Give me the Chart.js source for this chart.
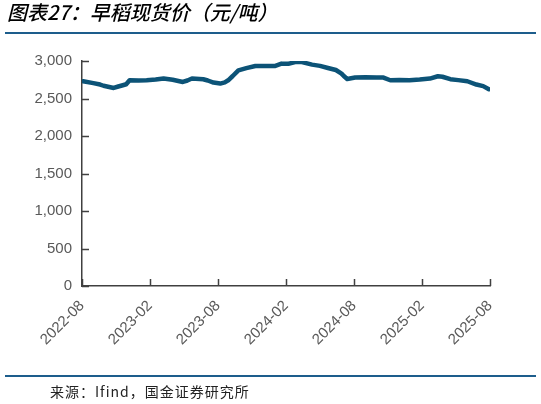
<!DOCTYPE html>
<html>
<head>
<meta charset="utf-8">
<script src="https://cdn.jsdelivr.net/npm/chart.js@4.4.1/dist/chart.umd.min.js"></script>
<style>
  body { margin: 0; background: #fff; }
  #wrap { position: relative; width: 541px; height: 404px; overflow: hidden; background: #fff; }
  #chart { position: absolute; left: 0; top: 0; }
  .title {
    position: absolute; left: 7px; top: 0px;
    font-family: "Noto Sans CJK SC", sans-serif; font-size: 20px; font-style: italic; font-weight: 500;
    color: #000; white-space: nowrap; line-height: 24px;
  }
  .rule { position: absolute; left: 5px; width: 531px; height: 2px; background: #1d5d8c; }
  .source {
    position: absolute; left: 50px; top: 381px; letter-spacing: 1px;
    font-family: "Noto Sans CJK SC", sans-serif; font-size: 14px; color: #222; white-space: nowrap;
  }
</style>
</head>
<body>
<div id="wrap">
  <canvas id="chart" width="541" height="404"></canvas>
  <div class="title">图表27：早稻现货价（元/吨）</div>
  <div class="rule" style="top:32px"></div>
  <div class="rule" style="top:375px"></div>
  <div class="source">来源：Ifind，国金证券研究所</div>
</div>
<script>
// months since 2022-08
const months = [
  0.1, 1.0, 1.6, 1.9, 2.8, 3.2, 3.6, 3.9, 4.2, 5.0, 5.7, 6.5, 7.2, 8.0, 8.9, 9.3, 9.7,
  10.7, 11.1, 11.6, 12.2, 12.6, 12.9, 13.3, 13.8, 14.5, 15.3, 16.2, 17.0, 17.6, 18.2,
  18.8, 19.4, 20.3, 21.0, 21.7, 22.4, 22.9, 23.1, 23.4, 24.1, 25.0, 26.0, 26.6, 27.2,
  28.0, 28.9, 29.8, 30.7, 31.4, 31.8, 32.5, 33.2, 34.0, 34.8, 35.4, 35.9
];
const prices = [
  2730, 2705, 2686, 2670, 2641, 2660, 2677, 2690, 2743, 2740, 2743, 2752, 2766, 2750, 2721, 2740, 2766,
  2757, 2740, 2713, 2699, 2715, 2743, 2800, 2876, 2905, 2933, 2935, 2933, 2965, 2962,
  2987, 2985, 2952, 2935, 2907, 2880, 2832, 2800, 2760, 2780, 2782, 2780, 2779, 2743,
  2748, 2743, 2752, 2766, 2797, 2790, 2757, 2745, 2730, 2686, 2665, 2624
];
const tickLabels = ['2022-08', '2023-02', '2023-08', '2024-02', '2024-08', '2025-02', '2025-08'];
const yTicks = [0, 500, 1000, 1500, 2000, 2500, 3000];

const axisColor = '#404040';
const labelFont = { family: '"Liberation Sans", Arial, sans-serif', size: 15 };

// tick marks drawn inward, as in the reference
const innerTicks = {
  id: 'innerTicks',
  afterDraw( chart ) {
    const { ctx, chartArea, scales } = chart;
    ctx.save();
    ctx.strokeStyle = axisColor;
    ctx.lineWidth = 1.5;
    ctx.beginPath();
    scales.y.ticks.forEach( ( t ) => {
      const y = Math.round( scales.y.getPixelForValue( t.value ) ) + 0.5;
      ctx.moveTo( chartArea.left, y );
      ctx.lineTo( chartArea.left + 7, y );
    } );
    scales.x.ticks.forEach( ( t ) => {
      const x = Math.round( scales.x.getPixelForValue( t.value ) ) + 0.5;
      ctx.moveTo( x, chartArea.bottom );
      ctx.lineTo( x, chartArea.bottom - 7 );
    } );
    ctx.stroke();
    ctx.restore();
  }
};

new Chart( document.getElementById( 'chart' ), {
  type: 'line',
  data: {
    datasets: [ {
      data: months.map( ( m, i ) => ( { x: m, y: prices[ i ] } ) ),
      borderColor: '#0c5377',
      borderWidth: 4.5,
      pointRadius: 0,
      tension: 0,
      borderJoinStyle: 'round',
      borderCapStyle: 'round',
    } ]
  },
  options: {
    responsive: false,
    animation: false,
    layout: { padding: { left: 0, top: 61, right: 51, bottom: 0 } },
    plugins: { legend: { display: false }, tooltip: { enabled: false } },
    scales: {
      x: {
        type: 'linear',
        min: 0,
        max: 36,
        afterBuildTicks: ( scale ) => {
          scale.ticks = tickLabels.map( ( _, i ) => ( { value: i * 6 } ) );
        },
        afterFit: ( scale ) => { scale.height = 118; },
        grid: { display: false, drawTicks: false },
        border: { display: true, color: axisColor, width: 1.5 },
        ticks: {
          autoSkip: false,
          maxRotation: 45,
          minRotation: 45,
          padding: 11,
          color: '#595959',
          font: labelFont,
          callback: ( v ) => tickLabels[ v / 6 ],
        },
      },
      y: {
        min: 0,
        max: 3000,
        afterBuildTicks: ( scale ) => {
          scale.ticks = yTicks.map( ( v ) => ( { value: v } ) );
        },
        afterFit: ( scale ) => { scale.width = 82; },
        grid: { display: false, drawTicks: false },
        border: { display: true, color: axisColor, width: 1.5 },
        ticks: {
          padding: 10,
          color: '#595959',
          font: labelFont,
          callback: ( v ) => v.toLocaleString( 'en-US' ),
        },
      },
    },
  },
  plugins: [ innerTicks ],
} );
</script>
</body>
</html>
